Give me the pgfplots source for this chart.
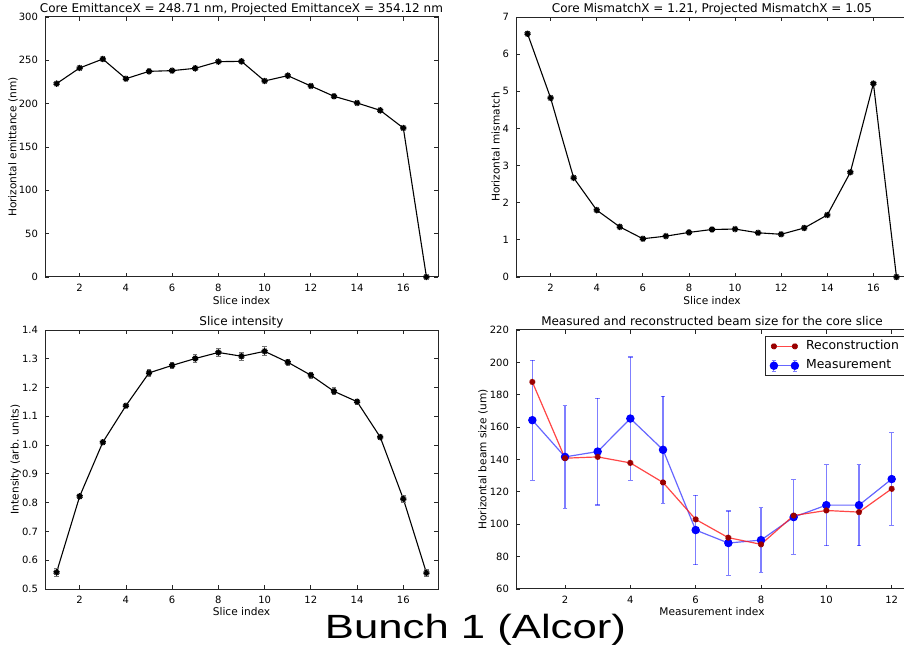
\documentclass[border=0pt]{standalone}
\usepackage{fontspec}
\setmainfont{DejaVu Sans}
\newfontfamily\arialfont{Liberation Sans}
\usepackage{pgfplots}
\pgfplotsset{compat=1.18}
\usetikzlibrary{plotmarks}

\newcommand\lblfont{\fontsize{5.3}{6}\selectfont}
\pgfplotsset{
  mpl/.style={
    scale only axis,
    anchor=south west,
    axis line style={line width=0.5pt, black!85},
    tick style={line width=0.4pt, black!85},
    major tick length=2pt,
    tick label style={font=\fontsize{5}{6}\selectfont},
    /pgf/number format/assume math mode=true,
    every axis title/.style={font=\fontsize{6}{7}\selectfont, at={(axis description cs:0.5,1.016)}, anchor=base},
    every axis x label/.style={font=\lblfont, at={(axis description cs:0.5,-0.104)}, anchor=base},
    scaled y ticks=false,
  },
  slice/.style={xmin=0.5, xmax=17.5, xtick={2,4,...,16}, xlabel={Slice index}},
  blk/.style={black, line width=0.55pt, mark=10-pointed star, mark size=1.6pt, mark options={fill=black, solid}},
  reclegend/.style={legend image code/.code={\draw[##1] plot coordinates {(0pt,0pt) (10.5pt,0pt)};}},
  measlegend/.style={legend image code/.code={%
    \draw[overlay, blue, opacity=0.5, line width=0.55pt] (0pt,-2.8pt)--(0pt,2.8pt) (-1.2pt,-2.8pt)--(1.2pt,-2.8pt) (-1.2pt,2.8pt)--(1.2pt,2.8pt)
      (10.5pt,-2.8pt)--(10.5pt,2.8pt) (9.3pt,-2.8pt)--(11.7pt,-2.8pt) (9.3pt,2.8pt)--(11.7pt,2.8pt);
    \draw[##1] plot coordinates {(0pt,0pt) (10.5pt,0pt)};}},
}

\begin{document}
\begin{tikzpicture}
\path[use as bounding box, clip] (0,0) rectangle (452pt,329pt);

% ---------- top left ----------
\begin{axis}[mpl, slice, at={(22.5pt,190.5pt)}, width=196.5pt, height=130pt,
  ymin=0, ymax=300, ytick={0,50,...,300},
  ylabel={Horizontal emittance (nm)},
  every axis y label/.style={font=\lblfont, at={(axis description cs:-0.0814,0.5)}, rotate=90, anchor=center},
  title={Core EmittanceX = 248.71 nm, Projected EmittanceX = 354.12 nm}]
\addplot[blk] coordinates {
(1,223.1) (2,241.2) (3,251.5) (4,228.8) (5,237.3) (6,238.1) (7,240.8) (8,248.5)
(9,248.8) (10,226.2) (11,232.3) (12,220.4) (13,208.5) (14,200.8) (15,192.3) (16,171.9) (17,0)};
\end{axis}

% ---------- top right ----------
\begin{axis}[mpl, slice, at={(258pt,190.5pt)}, width=196pt, height=130pt,
  ymin=0, ymax=7, ytick={0,1,...,7},
  ylabel={Horizontal mismatch},
  every axis y label/.style={font=\lblfont, at={(axis description cs:-0.0518,0.5)}, rotate=90, anchor=center},
  title={Core MismatchX = 1.21, Projected MismatchX = 1.05}]
\addplot[blk] coordinates {
(1,6.55) (2,4.82) (3,2.67) (4,1.80) (5,1.35) (6,1.03) (7,1.10) (8,1.20)
(9,1.28) (10,1.29) (11,1.19) (12,1.15) (13,1.32) (14,1.67) (15,2.82) (16,5.21) (17,0)};
\end{axis}

% ---------- bottom left ----------
\begin{axis}[mpl, slice, at={(22.5pt,34.5pt)}, width=196.5pt, height=129.5pt,
  ymin=0.5, ymax=1.4, ytick={0.5,0.6,0.7,0.8,0.9,1.0,1.1,1.2,1.3,1.4},
  yticklabel style={/pgf/number format/.cd, fixed, fixed zerofill, precision=1},
  ylabel={Intensity (arb. units)},
  every axis y label/.style={font=\lblfont, at={(axis description cs:-0.0746,0.5)}, rotate=90, anchor=center},
  every axis title/.style={font=\fontsize{6}{7}\selectfont, at={(axis description cs:0.5,1.019)}, anchor=base},
  title={Slice intensity}]
\addplot[blk, error bars/.cd, y dir=both, y explicit,
  error bar style={black!55, line width=0.45pt, solid},
  error mark options={rotate=90, mark size=1.1pt, black!55, line width=0.45pt}] coordinates {
(1,0.558) +- (0,0.015) (2,0.822) +- (0,0.006) (3,1.010) +- (0,0.005) (4,1.137) +- (0,0.006)
(5,1.251) +- (0,0.013) (6,1.277) +- (0,0.012) (7,1.301) +- (0,0.013) (8,1.322) +- (0,0.013)
(9,1.309) +- (0,0.014) (10,1.326) +- (0,0.016) (11,1.288) +- (0,0.010) (12,1.243) +- (0,0.010)
(13,1.187) +- (0,0.012) (14,1.151) +- (0,0.008) (15,1.028) +- (0,0.005) (16,0.813) +- (0,0.013)
(17,0.556) +- (0,0.013)};
\node[anchor=south west, inner sep=0pt, font=\fontsize{5}{6}\selectfont] at (axis description cs:0,1) [yshift=1.5pt] {1e7};
\end{axis}

% ---------- bottom right ----------
\begin{axis}[mpl, at={(258pt,34.5pt)}, width=196pt, height=129.5pt,
  xmin=0.5, xmax=12.5, xtick={2,4,...,12}, xlabel={Measurement index},
  ymin=60, ymax=220, ytick={60,80,...,220},
  ylabel={Horizontal beam size (um)},
  every axis y label/.style={font=\lblfont, at={(axis description cs:-0.0842,0.5)}, rotate=90, anchor=center},
  every axis title/.style={font=\fontsize{6}{7}\selectfont, at={(axis description cs:0.5,1.019)}, anchor=base},
  title={Measured and reconstructed beam size for the core slice},
  reverse legend,
  legend style={at={(axis description cs:1,1)}, anchor=north east, xshift=-1pt, yshift=-3pt,
    font=\fontsize{6.2}{7}\selectfont, draw=black!85, line width=0.5pt,
    inner xsep=2.5pt, inner ysep=1pt,
    row sep=2pt, column sep=3pt, nodes={inner sep=0.8pt}, cells={anchor=west}}]
\addplot[blue, draw opacity=0.6, line width=0.6pt, mark=*, mark size=1.8pt,
  mark options={fill=blue, draw=blue, opacity=1}, measlegend,
  error bars/.cd, y dir=both, y explicit,
  error bar style={blue, opacity=0.5, line width=0.55pt},
  error mark options={rotate=90, mark size=1.2pt, blue, opacity=0.5, line width=0.55pt}] coordinates {
(1,164.3) +- (0,37.0) (2,141.6) +- (0,31.6) (3,144.9) +- (0,33.0) (4,165.3) +- (0,38.0)
(5,146.0) +- (0,33.0) (6,96.4) +- (0,21.5) (7,88.4) +- (0,19.8) (8,90.2) +- (0,20.0)
(9,104.4) +- (0,23.0) (10,111.8) +- (0,25.0) (11,111.8) +- (0,25.0) (12,127.9) +- (0,28.5)};
\addlegendentry{Measurement}
\addplot[red!90!white, draw opacity=0.8, line width=0.6pt, mark=10-pointed star, mark size=1.5pt,
  mark options={fill=red!60!black, draw=red!60!black, opacity=1}, reclegend] coordinates {
(1,187.9) (2,140.8) (3,141.6) (4,137.9) (5,125.8) (6,103.0) (7,91.7) (8,87.6)
(9,105.4) (10,108.5) (11,107.5) (12,121.9)};
\addlegendentry{Reconstruction}
\end{axis}

\node[anchor=base, inner sep=0pt] at (237.75pt,9.5pt)
  {\scalebox{1.3}[1]{\arialfont\fontsize{16.8}{20}\selectfont Bunch 1 (Alcor)}};
\end{tikzpicture}
\end{document}
